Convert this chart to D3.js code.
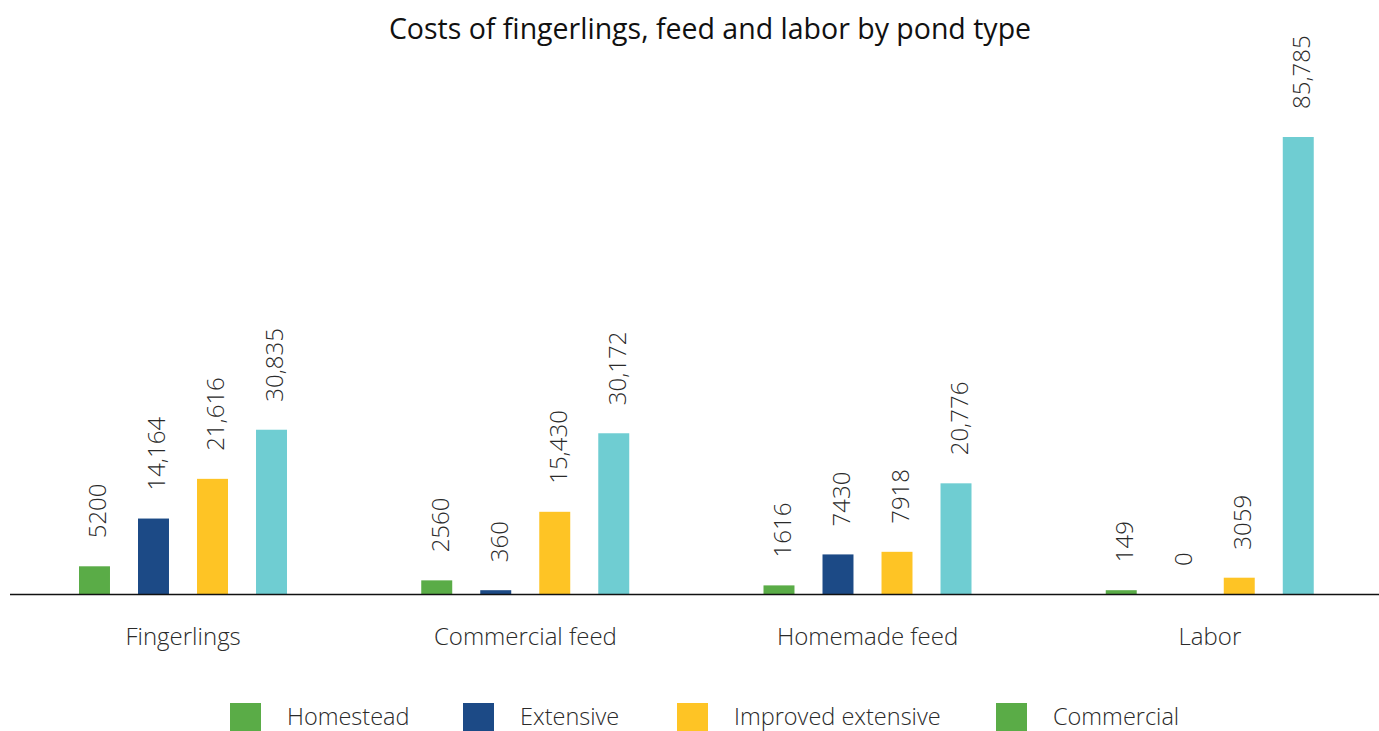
<!DOCTYPE html>
<html>
<head>
<meta charset="utf-8">
<script src="https://cdn.jsdelivr.net/npm/d3@7"></script>
<style>
  html, body { margin: 0; padding: 0; background: #fff; }
  svg { display: block; }
</style>
</head>
<body>
<svg id="chart" width="1379" height="731"></svg>
<script>
const categories = ["Fingerlings", "Commercial feed", "Homemade feed", "Labor"];
const seriesNames = ["Homestead", "Extensive", "Improved extensive", "Commercial"];
const homestead = [5200, 2560, 1616, 149];
const extensive = [14164, 360, 7430, 0];
const improvedExtensive = [21616, 15430, 7918, 3059];
const commercial = [30835, 30172, 20776, 85785];
const valueLabels = [
  ["5200", "2560", "1616", "149"],
  ["14,164", "360", "7430", "0"],
  ["21,616", "15,430", "7918", "3059"],
  ["30,835", "30,172", "20,776", "85,785"]
];
const barColors = ["#5aac47", "#1c4a86", "#fec425", "#6fcdd2"];
const legendColors = ["#5aac47", "#1c4a86", "#fec425", "#5aac47"];

const seriesValues = [homestead, extensive, improvedExtensive, commercial];
const rows = [];
categories.forEach((c, ci) => {
  seriesNames.forEach((s, si) => {
    rows.push({cat: c, series: s, si, value: seriesValues[si][ci], label: valueLabels[si][ci]});
  });
});

const svg = d3.select("#chart");
const baseY = 594;
const minBar = 3.8;

const x0 = d3.scaleBand().domain(categories).range([12, 1381]).padding(0);
const x1 = d3.scaleBand().domain(seriesNames).range([67, 275]).paddingInner(0.475).paddingOuter(0);
const y = d3.scaleLinear().domain([0, 85785]).range([baseY, 137]);
const barTop = d => d.value > 0 ? Math.min(y(d.value), baseY - minBar) : baseY;

// title
svg.append("text")
  .attr("x", 710).attr("y", 39)
  .attr("text-anchor", "middle")
  .style("font-family", "'Open Sans', sans-serif")
  .style("font-size", "28.5px")
  .attr("fill", "#111")
  .text("Costs of fingerlings, feed and labor by pond type");

// bars
const g = svg.append("g");
g.selectAll("rect.bar")
  .data(rows.filter(d => d.value > 0))
  .join("rect")
  .attr("class", "bar")
  .attr("x", d => x0(d.cat) + x1(d.series))
  .attr("width", x1.bandwidth())
  .attr("y", d => barTop(d))
  .attr("height", d => baseY - barTop(d))
  .attr("fill", d => barColors[d.si]);

// value labels
g.selectAll("text.val")
  .data(rows)
  .join("text")
  .attr("class", "val")
  .attr("transform", d => {
    const cx = x0(d.cat) + x1(d.series) + x1.bandwidth() / 2 + 3.5;
    const cy = barTop(d) - 28;
    return `translate(${cx},${cy}) rotate(-90)`;
  })
  .attr("dy", "0.35em")
  .attr("text-anchor", "start")
  .style("font-family", "'Open Sans', sans-serif")
  .style("font-weight", 300)
  .style("font-size", "24px")
  .attr("fill", "#2a2a2a")
  .text(d => d.label);

// axis
const xAxis = d3.axisBottom(x0).tickSize(0).tickPadding(34);
const ax = svg.append("g")
  .attr("transform", `translate(0,${baseY})`)
  .call(xAxis);
ax.select(".domain").remove();
svg.append("line")
  .attr("x1", 10).attr("x2", 1379)
  .attr("y1", baseY + 0.5).attr("y2", baseY + 0.5)
  .attr("stroke", "#111").attr("stroke-width", 1.3);
ax.selectAll("text")
  .style("font-family", "'Open Sans', sans-serif")
  .style("font-weight", 300)
  .style("font-size", "24px")
  .attr("fill", "#2a2a2a");

// legend
const legendX = [230, 463, 677, 996];
const leg = svg.append("g");
const items = leg.selectAll("g").data(seriesNames).join("g")
  .attr("transform", (d, i) => `translate(${legendX[i]},703)`);
items.append("rect")
  .attr("width", 31).attr("height", 28)
  .attr("fill", (d, i) => legendColors[i]);
items.append("text")
  .attr("x", 57).attr("y", 14).attr("dy", "0.35em")
  .style("font-family", "'Open Sans', sans-serif")
  .style("font-weight", 300)
  .style("font-size", "23.5px")
  .attr("fill", "#2a2a2a")
  .text(d => d);
</script>
</body>
</html>
